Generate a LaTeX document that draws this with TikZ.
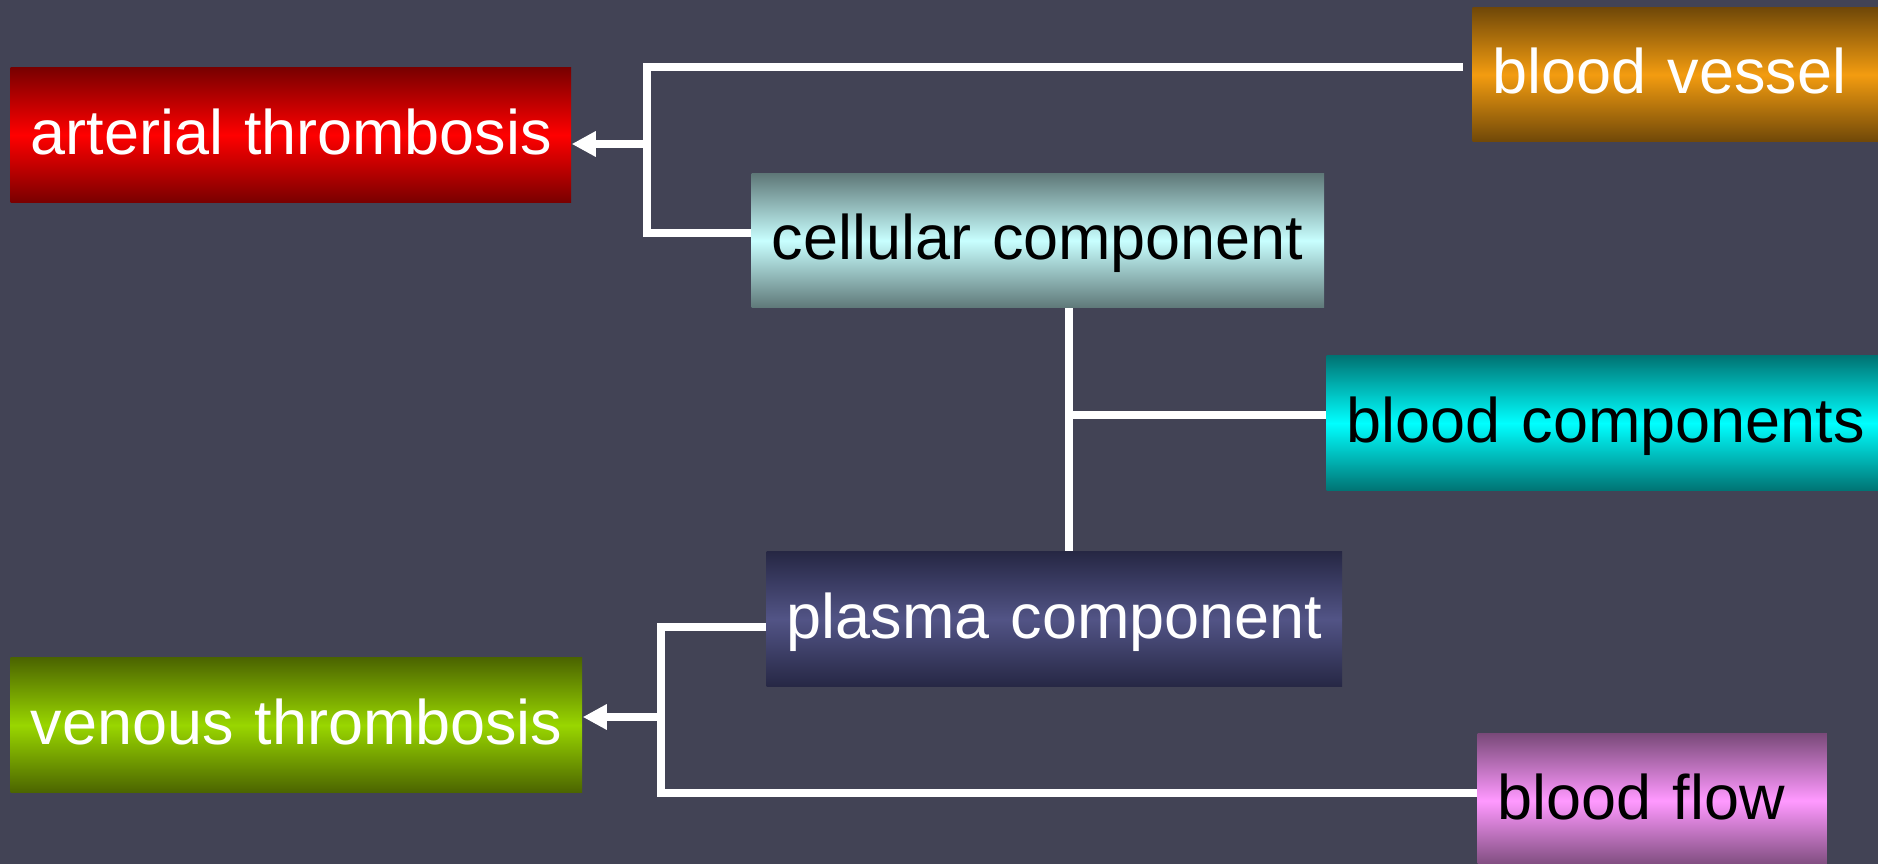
\documentclass[tikz,border=0pt]{standalone}
\usepackage{fontspec}
\setmainfont{Liberation Sans}
\usetikzlibrary{arrows.meta}

\definecolor{bg}{HTML}{424355}
\definecolor{redDark}{HTML}{780000}
\definecolor{redMid}{HTML}{FF0000}
\definecolor{orgDark}{HTML}{704808}
\definecolor{orgMid}{HTML}{F39C10}
\definecolor{cyDark}{HTML}{5F7878}
\definecolor{cyMid}{HTML}{C8FFFF}
\definecolor{aqDark}{HTML}{007373}
\definecolor{aqMid}{HTML}{00FFFF}
\definecolor{plDark}{HTML}{262744}
\definecolor{plMid}{HTML}{525486}
\definecolor{grDark}{HTML}{4B6400}
\definecolor{grMid}{HTML}{99D600}
\definecolor{pkDark}{HTML}{7A4A7A}
\definecolor{pkMid}{HTML}{FF99FF}

% box=<text width>/<height>/<text colour>; the box is text width + 0.4cm wide
\tikzset{
  box/.style args={#1/#2/#3}{
    draw=none, rectangle, anchor=north west,
    inner xsep=0.2cm, inner ysep=0pt,
    text width=#1, minimum height=#2, align=left,
    text height=0.5cm, text depth=0.12cm,
    font=\fontsize{17.9pt}{20pt}\selectfont, text=#3},
  link/.style={draw=white, line width=2pt, line join=miter, line cap=butt},
  arrowlink/.style={link, -{Triangle[length=0.24cm,width=0.24cm]}}
}

\begin{document}
\begin{tikzpicture}[x=0.01cm,y=-0.01cm]
  \useasboundingbox (0,0) rectangle (1878,864);
  \fill[bg] (0,0) rectangle (1878,864);

  % factor boxes
  \node[box=5.20cm/1.35cm/white, top color=redDark, bottom color=redDark, middle color=redMid]
    (art) at (10,67) {\mbox{arterial thrombosis}};
  \node[box=3.66cm/1.34cm/white, top color=orgDark, bottom color=orgDark, middle color=orgMid]
    (vessel) at (1472,7) {\mbox{blood vessel}};
  \node[box=5.32cm/1.34cm/black, top color=cyDark, bottom color=cyDark, middle color=cyMid]
    (cell) at (751,173) {\mbox{cellular component}};
  \node[box=5.12cm/1.35cm/black, top color=aqDark, bottom color=aqDark, middle color=aqMid]
    (comps) at (1326,355) {\mbox{blood components}};
  \node[box=5.35cm/1.35cm/white, top color=plDark, bottom color=plDark, middle color=plMid]
    (plasma) at (766,551) {\mbox{plasma component}};
  \node[box=5.31cm/1.35cm/white, top color=grDark, bottom color=grDark, middle color=grMid]
    (venous) at (10,657) {\mbox{venous thrombosis}};
  \node[box=3.09cm/1.34cm/black, top color=pkDark, bottom color=pkDark, middle color=pkMid]
    (flow) at (1477,733) {\mbox{blood flow}};

  % arterial bracket
  \coordinate (t1) at (1463,67);
  \coordinate (c1) at (647,67);
  \coordinate (c2) at (647,233);
  \coordinate (j1) at (647,144);
  \draw[link] (t1) -- (c1) -- (c2) -- (c2 -| cell.west);
  \draw[arrowlink] (j1) -- (j1 -| art.east);

  % blood components spine
  \coordinate (j2) at (1069,415);
  \draw[link] (j2 |- cell.south) -- (j2 |- plasma.north);
  \draw[link] (j2) -- (j2 -| comps.west);

  % venous bracket
  \coordinate (d1) at (661,627);
  \coordinate (d2) at (661,793);
  \coordinate (j3) at (661,717);
  \draw[link] (d1 -| plasma.west) -- (d1) -- (d2) -- (d2 -| flow.west);
  \draw[arrowlink] (j3) -- (j3 -| venous.east);
\end{tikzpicture}
\end{document}
